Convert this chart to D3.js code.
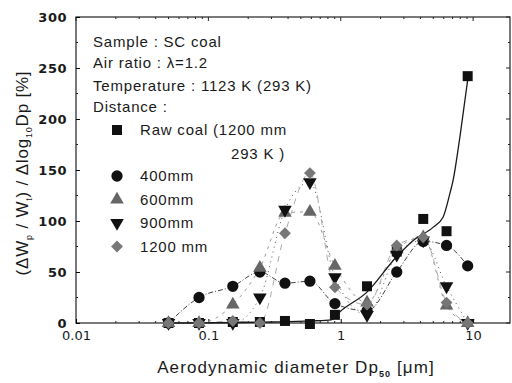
<!DOCTYPE html>
<html><head><meta charset="utf-8">
<script src="https://cdn.jsdelivr.net/npm/d3@7"></script>
<style>
html,body{margin:0;padding:0;background:#fff;}
svg text{font-family:"Liberation Sans","DejaVu Sans",sans-serif;fill:#1a1a1a;}
</style></head>
<body><svg id="c" width="512" height="383"></svg>
<script>
// ---- data ----
const diameters = [0.05, 0.085, 0.153, 0.245, 0.379, 0.585, 0.904, 1.58, 2.65, 4.2, 6.3, 9.1];
const rawCoal   = [0, 0, 1, 1, 2, -1, 8, 36, 70, 102, 90, 242];
const d400      = [0, 25, 36, 50, 39, 41, 19, 12, 50, 80, 76, 56];
const d600      = [0, 0, 18, 54, 108, 109, 56, 20, 72, 84, 17, 0];
const d900      = [0, 0, 0, 25, 111, 138, 45, 8, 67, 81, 36, 0];
const d1200     = [0, 0, 2, 0, 88, 147, 35, 18, 76, 84, 20, 0];
const fitX = [0.05, 0.3, 0.6, 0.85, 0.986, 1.57, 2.64, 3.53, 5.0, 5.94, 6.68, 7.04, 8.0, 9.14];
const fitY = [0, 1, 2, 3, 11, 30, 65, 81, 94, 104, 127, 139, 185, 240];
const yTicks = [0, 50, 100, 150, 200, 250, 300];
const xTicks = [0.01, 0.1, 1, 10];
const xTickLabels = ["0.01", "0.1", "1", "10"];
const infoLines = ["Sample : SC coal", "Air ratio : \u03bb=1.2", "Temperature : 1123 K (293 K)", "Distance :"];
const legendLabels = ["Raw coal (1200 mm", "400mm", "600mm", "900mm", "1200 mm"];

const svg = d3.select("#c");
const L = 76, R = 510, T = 17, B = 323;
const x = d3.scaleLog().domain([0.01, 19]).range([L, R]);
const y = d3.scaleLinear().domain([0, 300]).range([B, T]);

// frame
svg.append("rect").attr("x", L).attr("y", T).attr("width", R - L).attr("height", B - T)
  .attr("fill", "none").attr("stroke", "#222").attr("stroke-width", 1.2);

// axes
const yAx = d3.axisLeft(y).tickValues(yTicks).tickSize(-4).tickPadding(9).tickFormat(d3.format("d"));
const gy = svg.append("g").attr("transform", `translate(${L},0)`).call(yAx);
gy.select(".domain").remove();
gy.selectAll("text").attr("font-weight", "bold").attr("letter-spacing", 0.5)
  .style("font-family", "'DejaVu Sans',sans-serif").attr("font-size", 13);
const yMinor = d3.range(25, 300, 50);
svg.append("g").selectAll("line").data(yMinor).join("line")
  .attr("x1", L).attr("x2", L + 2).attr("y1", d => y(d)).attr("y2", d => y(d)).attr("stroke", "#222");
svg.append("g").selectAll("line").data(yTicks.concat(yMinor)).join("line")
  .attr("x1", R).attr("x2", d => yTicks.includes(d) ? R - 4 : R - 2)
  .attr("y1", d => y(d)).attr("y2", d => y(d)).attr("stroke", "#222");

const xAx = d3.axisBottom(x).tickValues(xTicks).tickSize(-4).tickPadding(8)
  .tickFormat((d, i) => xTickLabels[i]);
const gx = svg.append("g").attr("transform", `translate(0,${B})`).call(xAx);
gx.select(".domain").remove();
gx.selectAll("text").attr("font-size", 13).style("font-family", "'DejaVu Sans',sans-serif");
const xMinor = [];
[0.01, 0.1, 1, 10].forEach(dec => { for (let k = 2; k <= 9; k++) { const v = dec * k; if (v < 19) xMinor.push(v); } });
svg.append("g").selectAll("line").data(xMinor).join("line")
  .attr("x1", d => x(d)).attr("x2", d => x(d)).attr("y1", B).attr("y2", B - 2).attr("stroke", "#222");
svg.append("g").selectAll("line").data(xMinor.concat(xTicks)).join("line")
  .attr("x1", d => x(d)).attr("x2", d => x(d)).attr("y1", T).attr("y2", d => xTicks.includes(d) ? T + 4 : T + 2).attr("stroke", "#222");

// axis titles
const xt = svg.append("text").attr("x", 296).attr("y", 373).attr("text-anchor", "middle")
  .attr("font-size", 17).attr("letter-spacing", 1.1);
xt.append("tspan").text("Aerodynamic diameter Dp");
xt.append("tspan").attr("font-size", 9).attr("font-weight", "bold").attr("dy", 4).text("50");
xt.append("tspan").attr("dy", -4).text(" [\u03bcm]");

const yt = svg.append("text").attr("transform", "translate(28,173) rotate(-90)").attr("text-anchor", "middle")
  .attr("font-size", 17).attr("letter-spacing", 0.8);
yt.append("tspan").text("(\u0394W");
yt.append("tspan").attr("font-size", 9).attr("dy", 4).text("p");
yt.append("tspan").attr("dy", -4).text(" / W");
yt.append("tspan").attr("font-size", 9).attr("dy", 4).text("t");
yt.append("tspan").attr("dy", -4).text(") / \u0394log");
yt.append("tspan").attr("font-size", 9).attr("dy", 4).text("10");
yt.append("tspan").attr("dy", -4).text("Dp [%]");

// connecting lines
const series = [
  {vals: d400, dash: "5,2,1,2", col: "#444"},
  {vals: d600, dash: "3,5", col: "#999"},
  {vals: d900, dash: "1,4", col: "#555"},
  {vals: d1200, dash: "6,6", col: "#aaa"}
];
const line = d3.line().x(d => x(d[0])).y(d => y(d[1])).curve(d3.curveMonotoneX);
series.forEach(s => {
  svg.append("path").datum(diameters.map((d, i) => [d, s.vals[i]]))
    .attr("d", line).attr("fill", "none").attr("stroke", s.col).attr("stroke-width", 1).attr("stroke-dasharray", s.dash);
});
// raw coal smooth fit
svg.append("path").datum(fitX.map((d, i) => [d, fitY[i]]))
  .attr("d", line).attr("fill", "none").attr("stroke", "#1a1a1a").attr("stroke-width", 1.3);

// markers
const sym = {
  square: d3.symbol().type(d3.symbolSquare).size(100),
  circle: d3.symbol().type(d3.symbolCircle).size(100),
  tri: d3.symbol().type(d3.symbolTriangle).size(80),
  diamond: d3.symbol().type(d3.symbolSquare).size(70)
};
function draw(vals, path, fill, rot) {
  svg.append("g").selectAll("path").data(diameters.map((d, i) => [d, vals[i]])).join("path")
    .attr("d", path).attr("fill", fill)
    .attr("transform", d => `translate(${x(d[0])},${y(d[1])})${rot ? " rotate(" + rot + ")" : ""}`);
}
draw(rawCoal, sym.square, "#111");
draw(d400, sym.circle, "#111");
draw(d600, sym.tri, "#666");
draw(d900, sym.tri, "#111", 180);
draw(d1200, sym.diamond, "#777", 45);

// info text
const infoY = [47, 68, 90.5, 112];
infoLines.forEach((t, i) => {
  svg.append("text").attr("x", 93).attr("y", infoY[i]).attr("font-size", 15).attr("letter-spacing", 0.8).text(t);
});
const legY = [130, 176, 199.5, 223, 246.5];
const legSym = [[sym.square, "#111", 0], [sym.circle, "#111", 0], [sym.tri, "#666", 0], [sym.tri, "#111", 180], [sym.diamond, "#777", 45]];
legendLabels.forEach((t, i) => {
  svg.append("path").attr("d", legSym[i][0]).attr("fill", legSym[i][1])
    .attr("transform", `translate(117,${legY[i]})${legSym[i][2] ? " rotate(" + legSym[i][2] + ")" : ""}`);
  svg.append("text").attr("x", 140).attr("y", legY[i] + 5).attr("font-size", 15).attr("letter-spacing", 0.8).text(t);
});
svg.append("text").attr("x", 231).attr("y", 159).attr("font-size", 15).attr("letter-spacing", 0.8).text("293 K )");
</script></body></html>
